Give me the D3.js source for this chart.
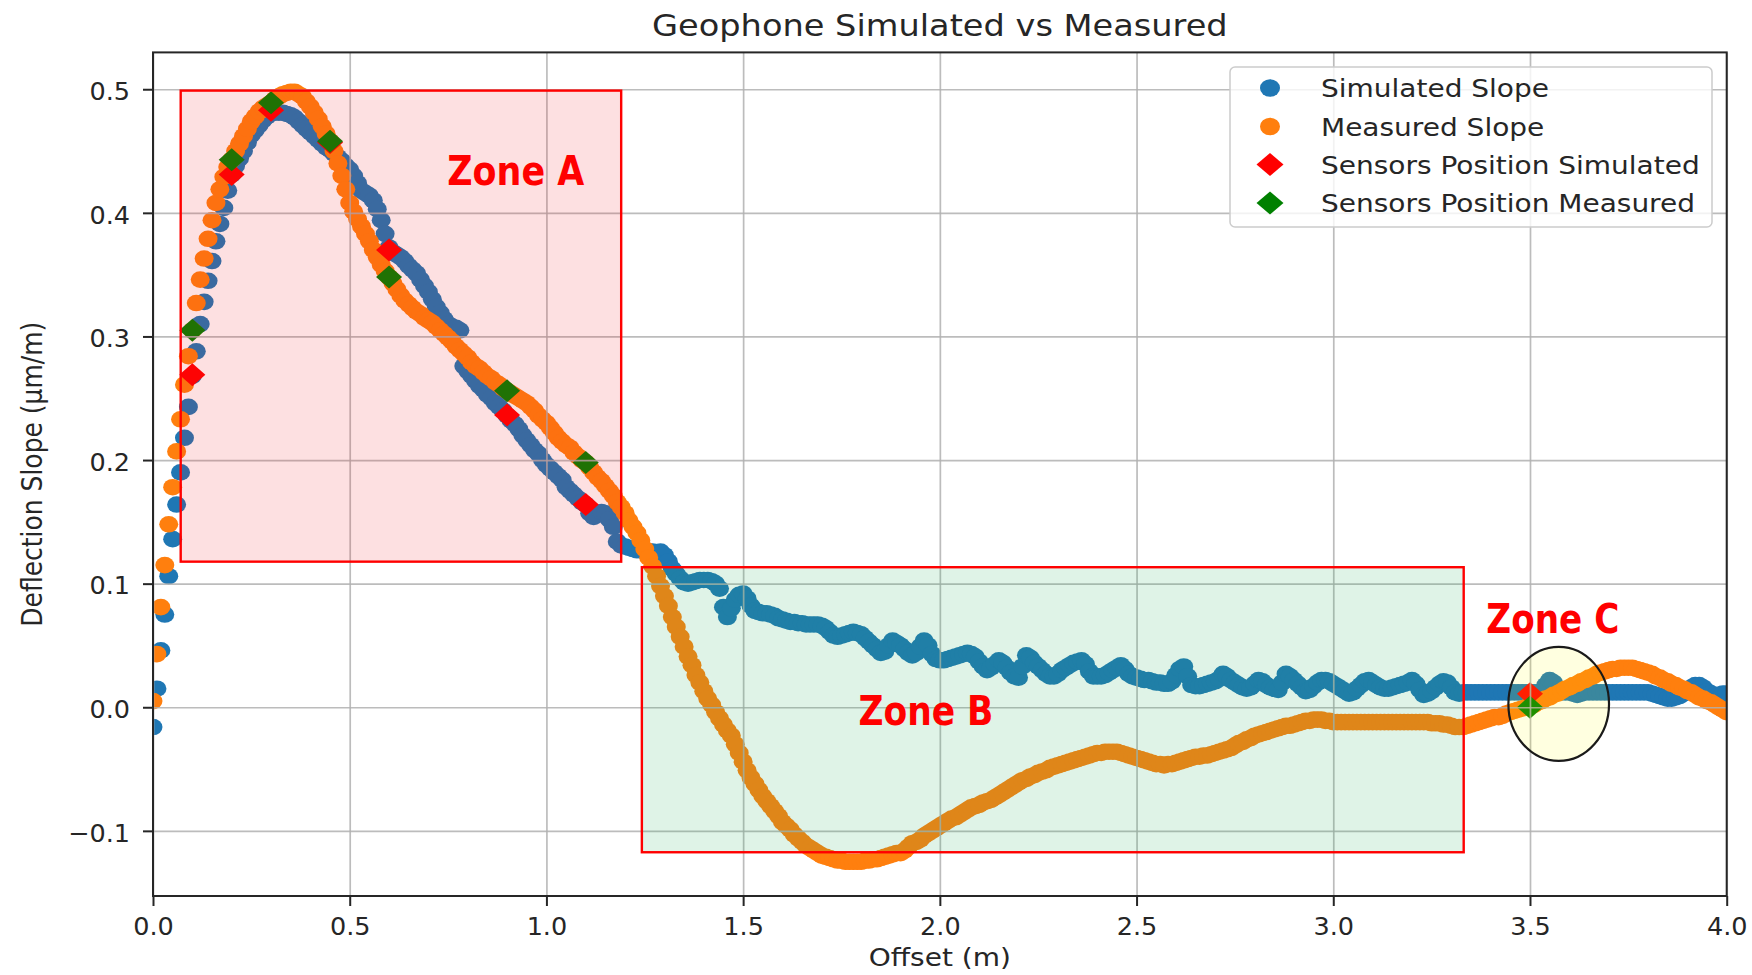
<!DOCTYPE html>
<html>
<head>
<meta charset="utf-8">
<script src="https://cdn.jsdelivr.net/npm/d3@7"></script>
<style>
  html, body { margin: 0; padding: 0; background: #ffffff; }
  svg { display: block; }
  text { font-family: "DejaVu Sans", sans-serif; }
</style>
</head>
<body>
<svg id="chart" width="1752" height="975"></svg>
<script>
// ---------------- DATA ----------------
const chartTitle = "Geophone Simulated vs Measured";
const xLabel = "Offset (m)";
const yLabel = "Deflection Slope (µm/m)";

// offsets: 0.00 .. 4.00 m, every 0.01 m (401 samples)
const offsetCount = 401;
const offsetStep = 0.01;

const simulatedSlope = [
  -0.016, 0.015, 0.046, 0.075, 0.106, 0.136, 0.164, 0.190, 0.218, 0.243,
  0.268, 0.288, 0.310, 0.328, 0.345, 0.361, 0.377, 0.391, 0.404, 0.418,
  0.431, 0.438, 0.444, 0.450, 0.457, 0.463, 0.467, 0.471, 0.475, 0.478,
  0.481, 0.481, 0.481, 0.481, 0.480, 0.479, 0.477, 0.474, 0.471, 0.468,
  0.465, 0.462, 0.459, 0.456, 0.453, 0.451, 0.448, 0.445, 0.442, 0.438,
  0.435, 0.430, 0.424, 0.418, 0.416, 0.414, 0.410, 0.403, 0.394, 0.383,
  0.372, 0.368, 0.366, 0.364, 0.361, 0.357, 0.354, 0.351, 0.346, 0.341,
  0.336, 0.330, 0.324, 0.319, 0.314, 0.310, 0.308, 0.307, 0.305, 0.276,
  0.272, 0.268, 0.264, 0.260, 0.257, 0.253, 0.250, 0.246, 0.243, 0.240,
  0.236, 0.232, 0.229, 0.225, 0.220, 0.216, 0.212, 0.208, 0.205, 0.200,
  0.196, 0.193, 0.190, 0.187, 0.184, 0.178, 0.175, 0.172, 0.169, 0.166,
  0.164, 0.157, 0.154, 0.156, 0.158, 0.157, 0.152, 0.146, 0.134, 0.131,
  0.130, 0.129, 0.128, 0.127, 0.127, 0.126, 0.126, 0.126, 0.125, 0.126,
  0.123, 0.118, 0.112, 0.108, 0.104, 0.101, 0.100, 0.101, 0.102, 0.103,
  0.103, 0.103, 0.102, 0.100, 0.096, 0.081, 0.073, 0.080, 0.087, 0.091,
  0.092, 0.088, 0.082, 0.078, 0.077, 0.076, 0.076, 0.075, 0.074, 0.072,
  0.071, 0.070, 0.069, 0.069, 0.068, 0.068, 0.067, 0.067, 0.067, 0.067,
  0.066, 0.064, 0.061, 0.058, 0.057, 0.058, 0.059, 0.060, 0.061, 0.060,
  0.059, 0.056, 0.053, 0.050, 0.047, 0.044, 0.045, 0.050, 0.054, 0.052,
  0.050, 0.047, 0.044, 0.042, 0.044, 0.049, 0.054, 0.050, 0.043, 0.039,
  0.038, 0.038, 0.039, 0.040, 0.041, 0.042, 0.043, 0.044, 0.043, 0.041,
  0.037, 0.033, 0.030, 0.032, 0.035, 0.038, 0.036, 0.032, 0.028, 0.025,
  0.024, 0.033, 0.042, 0.040, 0.036, 0.033, 0.030, 0.027, 0.025, 0.025,
  0.027, 0.030, 0.032, 0.034, 0.036, 0.037, 0.038, 0.035, 0.029, 0.025,
  0.025, 0.025, 0.026, 0.028, 0.030, 0.032, 0.034, 0.031, 0.027, 0.025,
  0.024, 0.023, 0.022, 0.022, 0.021, 0.020, 0.020, 0.019, 0.019, 0.021,
  0.026, 0.031, 0.033, 0.025, 0.018, 0.017, 0.017, 0.018, 0.019, 0.020,
  0.021, 0.023, 0.027, 0.025, 0.022, 0.020, 0.018, 0.016, 0.015, 0.016,
  0.019, 0.022, 0.021, 0.018, 0.016, 0.015, 0.014, 0.020, 0.027, 0.025,
  0.022, 0.019, 0.016, 0.013, 0.014, 0.017, 0.020, 0.022, 0.022, 0.021,
  0.019, 0.017, 0.015, 0.013, 0.011, 0.012, 0.015, 0.018, 0.021, 0.022,
  0.020, 0.018, 0.016, 0.015, 0.015, 0.016, 0.017, 0.018, 0.019, 0.020,
  0.022, 0.019, 0.014, 0.010, 0.011, 0.013, 0.016, 0.019, 0.021, 0.020,
  0.016, 0.012, 0.011, 0.012, 0.012, 0.012, 0.012, 0.012, 0.012, 0.012,
  0.012, 0.012, 0.012, 0.012, 0.012, 0.012, 0.012, 0.012, 0.012, 0.012,
  0.012, 0.012, 0.012, 0.013, 0.018, 0.022, 0.020, 0.014, 0.012, 0.012,
  0.012, 0.011, 0.010, 0.011, 0.012, 0.012, 0.012, 0.012, 0.012, 0.012,
  0.012, 0.012, 0.012, 0.012, 0.012, 0.012, 0.012, 0.012, 0.012, 0.012,
  0.012, 0.011, 0.010, 0.009, 0.008, 0.007, 0.007, 0.008, 0.009, 0.011,
  0.013, 0.016, 0.018, 0.018, 0.016, 0.013, 0.011, 0.010, 0.010, 0.011,
  0.011
];

const measuredSlope = [
  0.005, 0.043, 0.081, 0.115, 0.148, 0.178, 0.207, 0.233, 0.261, 0.284,
  0.305, 0.327, 0.346, 0.363, 0.379, 0.394, 0.408, 0.419, 0.429, 0.437,
  0.443, 0.450, 0.456, 0.462, 0.468, 0.474, 0.478, 0.482, 0.485, 0.487,
  0.489, 0.492, 0.494, 0.496, 0.497, 0.498, 0.498, 0.496, 0.494, 0.490,
  0.486, 0.481, 0.476, 0.470, 0.464, 0.458, 0.450, 0.440, 0.430, 0.419,
  0.408, 0.401, 0.395, 0.389, 0.383, 0.377, 0.370, 0.364, 0.358, 0.353,
  0.348, 0.343, 0.338, 0.333, 0.329, 0.326, 0.323, 0.320, 0.318, 0.315,
  0.313, 0.311, 0.308, 0.305, 0.302, 0.299, 0.296, 0.292, 0.289, 0.286,
  0.283, 0.279, 0.276, 0.274, 0.271, 0.268, 0.266, 0.263, 0.261, 0.258,
  0.256, 0.254, 0.252, 0.250, 0.248, 0.246, 0.243, 0.240, 0.236, 0.233,
  0.230, 0.226, 0.222, 0.218, 0.215, 0.212, 0.210, 0.206, 0.203, 0.200,
  0.198, 0.194, 0.190, 0.186, 0.183, 0.179, 0.175, 0.171, 0.166, 0.162,
  0.157, 0.151, 0.146, 0.141, 0.135, 0.128, 0.121, 0.114, 0.106, 0.098,
  0.090, 0.082, 0.073, 0.065, 0.057, 0.049, 0.041, 0.034, 0.026, 0.020,
  0.013, 0.007, 0.002, -0.004, -0.009, -0.014, -0.019, -0.023, -0.030, -0.037,
  -0.044, -0.051, -0.057, -0.062, -0.067, -0.072, -0.076, -0.080, -0.084, -0.088,
  -0.093, -0.096, -0.099, -0.103, -0.106, -0.109, -0.112, -0.114, -0.116, -0.118,
  -0.120, -0.121, -0.122, -0.123, -0.124, -0.124, -0.125, -0.125, -0.125, -0.125,
  -0.125, -0.124, -0.124, -0.123, -0.123, -0.122, -0.121, -0.120, -0.119, -0.118,
  -0.118, -0.116, -0.113, -0.110, -0.109, -0.107, -0.104, -0.102, -0.100, -0.098,
  -0.096, -0.094, -0.092, -0.090, -0.089, -0.087, -0.085, -0.083, -0.081, -0.080,
  -0.079, -0.077, -0.076, -0.075, -0.073, -0.071, -0.069, -0.067, -0.065, -0.063,
  -0.061, -0.059, -0.058, -0.056, -0.055, -0.053, -0.052, -0.051, -0.049, -0.048,
  -0.047, -0.046, -0.045, -0.044, -0.043, -0.042, -0.041, -0.040, -0.039, -0.038,
  -0.037, -0.037, -0.036, -0.036, -0.036, -0.036, -0.037, -0.038, -0.039, -0.040,
  -0.041, -0.042, -0.043, -0.044, -0.045, -0.046, -0.046, -0.047, -0.046, -0.046,
  -0.045, -0.044, -0.043, -0.042, -0.041, -0.040, -0.040, -0.039, -0.039, -0.038,
  -0.037, -0.036, -0.035, -0.034, -0.033, -0.031, -0.029, -0.028, -0.026, -0.025,
  -0.023, -0.022, -0.021, -0.020, -0.019, -0.018, -0.017, -0.016, -0.015, -0.015,
  -0.014, -0.013, -0.012, -0.011, -0.011, -0.010, -0.010, -0.010, -0.011, -0.011,
  -0.012, -0.012, -0.012, -0.012, -0.012, -0.012, -0.012, -0.012, -0.012, -0.012,
  -0.012, -0.012, -0.012, -0.012, -0.012, -0.012, -0.012, -0.012, -0.012, -0.012,
  -0.012, -0.012, -0.012, -0.012, -0.012, -0.013, -0.013, -0.013, -0.014, -0.014,
  -0.015, -0.016, -0.016, -0.016, -0.015, -0.014, -0.013, -0.012, -0.011, -0.010,
  -0.009, -0.008, -0.008, -0.007, -0.005, -0.004, -0.003, -0.002, -0.001, 0.000,
  0.001, 0.002, 0.004, 0.005, 0.007, 0.008, 0.010, 0.011, 0.013, 0.015,
  0.016, 0.018, 0.019, 0.021, 0.022, 0.024, 0.025, 0.027, 0.028, 0.029,
  0.030, 0.031, 0.031, 0.032, 0.032, 0.032, 0.032, 0.031, 0.030, 0.029,
  0.028, 0.027, 0.025, 0.024, 0.022, 0.021, 0.019, 0.018, 0.016, 0.015,
  0.013, 0.012, 0.010, 0.008, 0.007, 0.005, 0.004, 0.002, 0.000, -0.002,
  -0.004
];

const sensorOffsets   = [0.1, 0.2, 0.3, 0.45, 0.6, 0.9, 1.1, 3.5];
const sensorSimulated = [0.269, 0.431, 0.483, 0.457, 0.370, 0.2365, 0.164, 0.011];
const sensorMeasured  = [0.305, 0.443, 0.489, 0.458, 0.348, 0.256, 0.198, 0.000];

const xTicks = [0.0, 0.5, 1.0, 1.5, 2.0, 2.5, 3.0, 3.5, 4.0];
const yTicks = [-0.1, 0.0, 0.1, 0.2, 0.3, 0.4, 0.5];
const xDomain = [0, 4.0];
const yDomain = [-0.1527, 0.5298];

const legendLabels = ["Simulated Slope", "Measured Slope", "Sensors Position Simulated", "Sensors Position Measured"];

// Annotation zones (in data units)
const zoneNames = ["Zone A", "Zone B", "Zone C"];
const zoneAExtent = { x0: 0.0704, x1: 1.190, y0: 0.1178, y1: 0.4989 };
const zoneBExtent = { x0: 1.2426, x1: 3.3315, y0: -0.1173, y1: 0.1133 };
const zoneCEllipse = { cx: 3.573, cy: 0.0027, rx: 0.1279, ry: 0.0461 };

// ---------------- DRAWING ----------------
const W = 1752, H = 975;
const plot = { left: 153, right: 1726.7, top: 52.4, bottom: 896 };
const stretch = 1.12;           // the reference is slightly stretched horizontally
const dotRx = 9.5, dotRy = 8.3;
const diaW = 13, diaH = 11.5;

const colors = {
  sim: "#1f77b4", meas: "#ff7f0e", sensSim: "#ff0000", sensMeas: "#008000"
};

const svg = d3.select("#chart");
svg.append("rect").attr("width", W).attr("height", H).attr("fill", "#ffffff");

const x = d3.scaleLinear().domain(xDomain).range([plot.left, plot.right]);
const y = d3.scaleLinear().domain(yDomain).range([plot.bottom, plot.top]);

const offsets = d3.range(offsetCount).map(i => +(i * offsetStep).toFixed(2));
const simPts = offsets.map((o, i) => ({ o, v: simulatedSlope[i] }));
const measPts = offsets.map((o, i) => ({ o, v: measuredSlope[i] }));
const sensSimPts = sensorOffsets.map((o, i) => ({ o, v: sensorSimulated[i] }));
const sensMeasPts = sensorOffsets.map((o, i) => ({ o, v: sensorMeasured[i] }));

svg.append("defs").append("clipPath").attr("id", "plotclip")
  .append("rect")
  .attr("x", plot.left).attr("y", plot.top)
  .attr("width", plot.right - plot.left).attr("height", plot.bottom - plot.top);

const dataG = svg.append("g").attr("clip-path", "url(#plotclip)");

function dots(pts, color) {
  dataG.append("g").selectAll("ellipse").data(pts).join("ellipse")
    .attr("cx", d => x(d.o)).attr("cy", d => y(d.v))
    .attr("rx", dotRx).attr("ry", dotRy)
    .attr("fill", color);
}
function diamondPath(w, h) {
  return `M0,${-h}L${w},0L0,${h}L${-w},0Z`;
}
function diamonds(pts, color) {
  dataG.append("g").selectAll("path").data(pts).join("path")
    .attr("d", diamondPath(diaW, diaH))
    .attr("transform", d => `translate(${x(d.o)},${y(d.v)})`)
    .attr("fill", color);
}
dots(simPts, colors.sim);
dots(measPts, colors.meas);
diamonds(sensSimPts, colors.sensSim);
diamonds(sensMeasPts, colors.sensMeas);

// Grid (drawn above the scatter, as matplotlib does by default)
const gridG = svg.append("g");
gridG.append("g").attr("transform", `translate(0,${plot.bottom})`)
  .call(d3.axisBottom(x).tickValues(xTicks).tickSize(-(plot.bottom - plot.top)).tickFormat(""))
  .call(g => g.select(".domain").remove())
  .call(g => g.selectAll("line").attr("stroke", "#b0b0b0").attr("stroke-width", 1.7).attr("stroke-opacity", 0.85));
gridG.append("g").attr("transform", `translate(${plot.left},0)`)
  .call(d3.axisLeft(y).tickValues(yTicks).tickSize(-(plot.right - plot.left)).tickFormat(""))
  .call(g => g.select(".domain").remove())
  .call(g => g.selectAll("line").attr("stroke", "#b0b0b0").attr("stroke-width", 1.7).attr("stroke-opacity", 0.85));

// Spines
svg.append("rect")
  .attr("x", plot.left).attr("y", plot.top)
  .attr("width", plot.right - plot.left).attr("height", plot.bottom - plot.top)
  .attr("fill", "none").attr("stroke", "#262626").attr("stroke-width", 2);

const tickFmt = d3.format(".1f");
const tickFont = 25.5;
// X axis
const xAxisG = svg.append("g").attr("transform", `translate(0,${plot.bottom})`)
  .call(d3.axisBottom(x).tickValues(xTicks).tickFormat(tickFmt).tickSize(10).tickPadding(11));
xAxisG.select(".domain").remove();
xAxisG.selectAll("line").attr("stroke", "#262626").attr("stroke-width", 2);
xAxisG.selectAll("text")
  .attr("font-family", "DejaVu Sans").attr("font-size", tickFont).attr("fill", "#262626")
  .attr("y", 21).attr("dy", "0.71em");
// Y axis
const yAxisG = svg.append("g").attr("transform", `translate(${plot.left},0)`)
  .call(d3.axisLeft(y).tickValues(yTicks).tickFormat(tickFmt).tickSize(10).tickPadding(12));
yAxisG.select(".domain").remove();
yAxisG.selectAll("line").attr("stroke", "#262626").attr("stroke-width", 2);
yAxisG.selectAll("text")
  .attr("font-family", "DejaVu Sans").attr("font-size", tickFont).attr("fill", "#262626")
  .attr("x", -23).attr("dy", "0.40em");

// Title and axis labels
function hText(sel, px, py, str, size, anchor) {
  return sel.append("text")
    .attr("transform", `translate(${px},${py}) scale(${stretch},1)`)
    .attr("text-anchor", anchor || "middle")
    .attr("font-family", "DejaVu Sans")
    .attr("font-size", size)
    .attr("fill", "#262626")
    .text(str);
}
hText(svg, (plot.left + plot.right) / 2, 35.5, chartTitle, 30);
hText(svg, (plot.left + plot.right) / 2, 966, xLabel, 25);
svg.append("text")
  .attr("transform", `translate(42,${(plot.top + plot.bottom) / 2}) scale(${stretch},1) rotate(-90)`)
  .attr("text-anchor", "middle")
  .attr("font-family", "DejaVu Sans").attr("font-size", 25).attr("fill", "#262626")
  .text(yLabel);

// Legend
const legendG = svg.append("g");
legendG.append("rect")
  .attr("x", 1230).attr("y", 67).attr("width", 482).attr("height", 160)
  .attr("rx", 5).attr("ry", 5)
  .attr("fill", "#ffffff").attr("fill-opacity", 0.8)
  .attr("stroke", "#cccccc").attr("stroke-width", 1.5);
const legendRowsY = [88, 126.5, 164.5, 203];
const legendSymbols = ["circle", "circle", "diamond", "diamond"];
const legendColors = [colors.sim, colors.meas, colors.sensSim, colors.sensMeas];
legendLabels.forEach((lab, i) => {
  const cy = legendRowsY[i];
  if (legendSymbols[i] === "circle") {
    legendG.append("ellipse").attr("cx", 1270).attr("cy", cy)
      .attr("rx", dotRx + 0.5).attr("ry", dotRy + 0.5).attr("fill", legendColors[i]);
  } else {
    legendG.append("path").attr("d", diamondPath(diaW + 0.5, diaH))
      .attr("transform", `translate(1270,${cy})`).attr("fill", legendColors[i]);
  }
  hText(legendG, 1321, cy + 9, lab, 25, "start");
});

// Zone annotations (overlays on top of the chart)
const annG = svg.append("g");
annG.append("rect")
  .attr("x", x(zoneAExtent.x0)).attr("y", y(zoneAExtent.y1))
  .attr("width", x(zoneAExtent.x1) - x(zoneAExtent.x0))
  .attr("height", y(zoneAExtent.y0) - y(zoneAExtent.y1))
  .attr("fill", "rgb(240,24,31)").attr("fill-opacity", 0.135)
  .attr("stroke", "#ff0000").attr("stroke-width", 2.4);
annG.append("rect")
  .attr("x", x(zoneBExtent.x0)).attr("y", y(zoneBExtent.y1))
  .attr("width", x(zoneBExtent.x1) - x(zoneBExtent.x0))
  .attr("height", y(zoneBExtent.y0) - y(zoneBExtent.y1))
  .attr("fill", "rgb(39,174,96)").attr("fill-opacity", 0.15)
  .attr("stroke", "#ff0000").attr("stroke-width", 2.4);
annG.append("ellipse")
  .attr("cx", x(zoneCEllipse.cx)).attr("cy", y(zoneCEllipse.cy))
  .attr("rx", x(zoneCEllipse.cx + zoneCEllipse.rx) - x(zoneCEllipse.cx))
  .attr("ry", y(zoneCEllipse.cy - zoneCEllipse.ry) - y(zoneCEllipse.cy))
  .attr("fill", "rgb(255,255,0)").attr("fill-opacity", 0.12)
  .attr("stroke", "#1a1a1a").attr("stroke-width", 2.2);

const zoneLabelPos = [
  { o: 0.748, v: 0.4225, w: 137 },   // Zone A text anchor (left, baseline), text width
  { o: 1.793, v: -0.0143, w: 135 },  // Zone B
  { o: 3.389, v: 0.0599, w: 133 }    // Zone C
];
zoneNames.forEach((nm, i) => {
  annG.append("text")
    .attr("x", x(zoneLabelPos[i].o)).attr("y", y(zoneLabelPos[i].v))
    .attr("font-family", "Liberation Sans, Arial, sans-serif")
    .attr("font-weight", "bold").attr("font-size", 41)
    .attr("textLength", zoneLabelPos[i].w).attr("lengthAdjust", "spacingAndGlyphs")
    .attr("fill", "#ff0000")
    .text(nm);
});
</script>
</body>
</html>
